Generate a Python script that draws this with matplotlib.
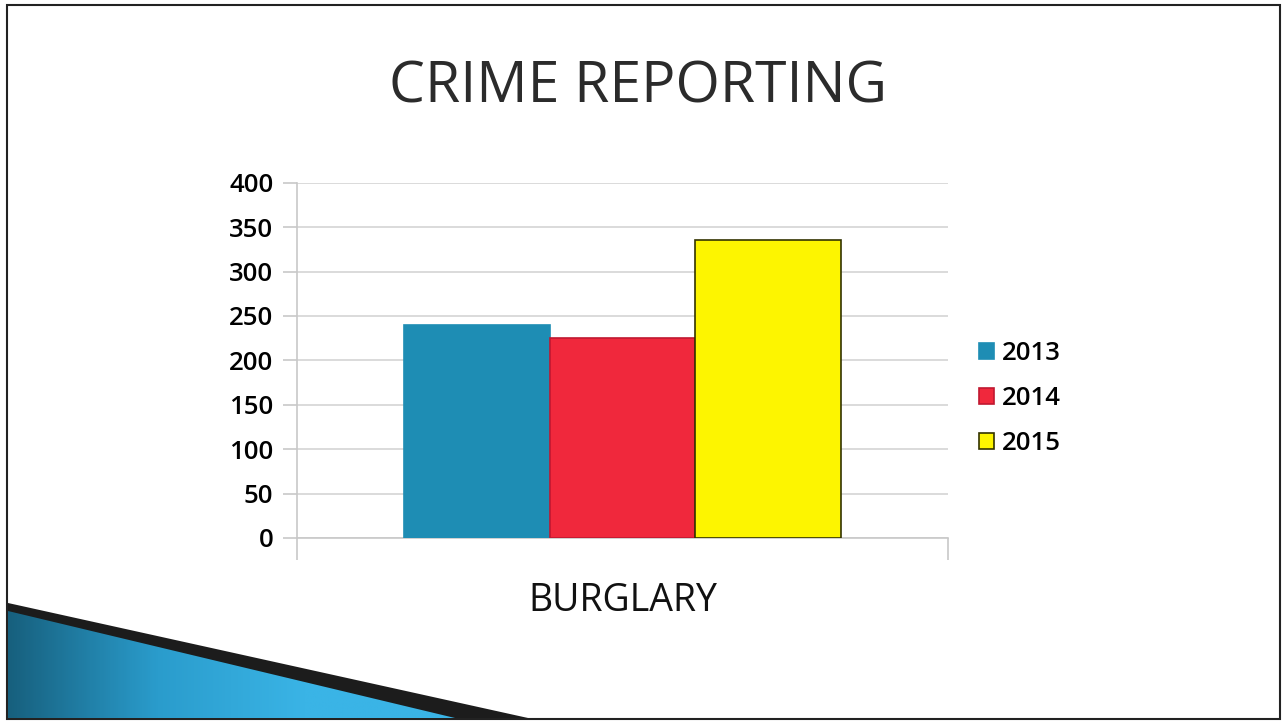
import matplotlib
matplotlib.use("Agg")
import matplotlib.pyplot as plt
import numpy as np
from matplotlib.patches import Polygon, Rectangle
from matplotlib.colors import LinearSegmentedColormap

# chart data
years = ["2013", "2014", "2015"]
burglary = [240, 225, 335]
bar_colors = ["#1e8db4", "#f0283c", "#fdf500"]
bar_edges = ["#1e8db4", "#c01830", "#333300"]
category = "BURGLARY"

plt.rcParams['font.family'] = ['Open Sans', 'DejaVu Sans']

fig = plt.figure(figsize=(12.84, 7.25), dpi=100)
ax = fig.add_axes([0.2313, 0.258, 0.507, 0.49])

offsets = [-1, 0, 1]
for off, yr, val, c, ec in zip(offsets, years, burglary, bar_colors, bar_edges):
    ax.bar(off, val, width=1.0, color=c, edgecolor=ec, linewidth=1.2, label=yr, zorder=3)

ax.set_xlim(-2.23, 2.23)
ax.set_ylim(0, 400)
ax.set_yticks(range(0, 401, 50))
ax.yaxis.grid(True, color="#d4d4d4", linewidth=1.2, zorder=0)
ax.tick_params(axis='y', length=10, color="#c8c8c8", width=1.2, labelsize=18.5, pad=7)
for t in ax.get_yticklabels():
    t.set_fontweight('semibold')

ax.set_xticks([0])
ax.set_xticklabels([category], fontsize=27, color="#111111")
ax.tick_params(axis='x', length=0, pad=32)
ax.set_xticks([-2.23, 2.23], minor=True)
ax.tick_params(axis='x', which='minor', length=16, color="#c8c8c8", width=1.2)

for s in ['top', 'right']:
    ax.spines[s].set_visible(False)
for s in ['left', 'bottom']:
    ax.spines[s].set_color("#c8c8c8")
    ax.spines[s].set_linewidth(1.2)

leg = ax.legend(loc='center left', bbox_to_anchor=(1.012, 0.392), frameon=False,
                prop={'size': 18.5, 'weight': 'semibold'}, handlelength=0.6, handleheight=0.6,
                handletextpad=0.3, labelspacing=0.78)

fig.text(0.497, 0.878, "CRIME REPORTING", ha='center', va='center',
         fontsize=41, color="#2b2b2b")

# decorative wedge bottom-left
W, H = 1284, 725
def fp(x, y):
    return (x / W, 1 - y / H)

img_ax = fig.add_axes([0, 0, 1, 1], zorder=2)
img_ax.set_axis_off()
img_ax.set_xlim(0, 1)
img_ax.set_ylim(0, 1)
img_ax.add_patch(Polygon([fp(8, 603), fp(528, 718), fp(8, 718)], closed=True,
                         facecolor="#1c1c1c", edgecolor='none', zorder=0))
grad = np.tile(np.linspace(0, 1, 300), (10, 1))
cmap = LinearSegmentedColormap.from_list("w", ["#17607e", "#2a9ccc", "#3ab4e6", "#3ab4e6"])
pic = img_ax.imshow(grad, cmap=cmap, extent=[8 / W, 455 / W, 1 - 718 / H, 1 - 611 / H],
                    aspect='auto', zorder=1)
pic.set_clip_path(Polygon([fp(8, 611), fp(455, 718), fp(8, 718)], closed=True,
                          transform=img_ax.transData))

# slide border
fig.add_artist(Rectangle((7 / W, 1 - 719 / H), 1273 / W, 714 / H, transform=fig.transFigure,
                         fill=False, edgecolor="#222222", linewidth=1.5))

fig.savefig("out.png", dpi=100)
